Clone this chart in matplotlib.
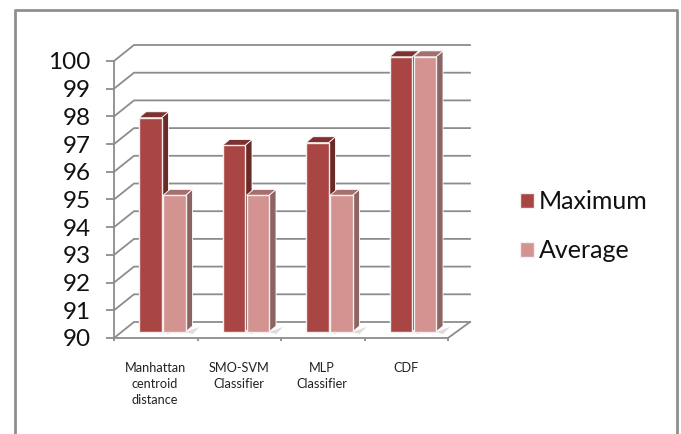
import matplotlib
matplotlib.use("Agg")
import matplotlib.pyplot as plt
from matplotlib.lines import Line2D

categories = ["Manhattan\ncentroid\ndistance", "SMO-SVM\nClassifier", "MLP\nClassifier", "CDF"]
series_names = ["Maximum", "Average"]
maximum = [97.8, 96.8, 96.9, 100]
average = [95, 95, 95, 100]
y_ticks = list(range(90, 101))

W, H = 681, 434
plt.rcParams['font.family'] = ['Lato', 'DejaVu Sans']
fig = plt.figure(figsize=(W/100, H/100), dpi=100)
L, R, B, T = 114, 448, 338, 61
ax = fig.add_axes([L/W, 1-B/H, (R-L)/W, (B-T)/H])
ax.set_xlim(0, 4)
ax.set_ylim(90, 100)
ax.patch.set_alpha(0)
px = 4/(R-L)
py = 10/(B-T)
GREY = "#8c8c8c"
COL = {"Maximum": ("#a94542", "#6a2a28", "#7c3230"), "Average": ("#d29391", "#8c6463", "#a56f6d")}
LW = 1.3

# frame (open at the bottom: it runs off the picture)
fig.add_artist(Line2D([15/W, 15/W, 677/W, 677/W], [0, 1-10/H, 1-10/H, 0], transform=fig.transFigure,
                      color="#8f8f8f", lw=2))

# walls and gridlines
dx, dy = 20*px, 16*py
for v in y_ticks:
    ax.plot([0, dx, 4+22*px], [v, v+dy, v+dy], color=GREY, lw=LW, clip_on=False, zorder=1)
ax.plot([4, 4+22*px], [90, 90+dy], color=GREY, lw=LW, clip_on=False, zorder=1)

# bars
off_x = 25*px
bw = 22.5*px
gap = 1.5*px
sx, sy = 7*px, 6*py
base = 90 + 6*py
for i in range(len(categories)):
    for j, (name, vals) in enumerate(zip(series_names, [maximum, average])):
        front, side, top = COL[name]
        x0 = i + off_x + j*(bw+gap)
        h = vals[i] + 0.15
        z = 3 + j
        ax.fill([x0+bw, x0+bw+sx+7*px, x0+bw+sx], [base, base+5*py, base-2*py], color="#dcdcdc",
                zorder=2, lw=0, clip_on=False)
        ax.fill([x0+bw, x0+bw+sx, x0+bw+sx, x0+bw], [base, base+sy, h+sy, h], fc=side, ec="white",
                lw=0.6, zorder=z, clip_on=False)
        ax.fill([x0, x0+sx, x0+bw+sx, x0+bw], [h, h+sy, h+sy, h], fc=top, ec="white",
                lw=0.6, zorder=z, clip_on=False)
        bars = ax.bar(x0, h-base, bottom=base, width=bw, align="edge", color=front, ec="#f5eeee",
                      lw=1.0, zorder=z, label=name)
        for b in bars:
            b.set_clip_on(False)

# axes
for s in ["top", "right"]:
    ax.spines[s].set_visible(False)
for s in ["left", "bottom"]:
    ax.spines[s].set_color(GREY)
    ax.spines[s].set_linewidth(LW)
    ax.spines[s].set_zorder(6)
ax.set_yticks(y_ticks)
ax.tick_params(axis="y", labelsize=17.5, length=5.8, width=LW, color=GREY, labelcolor="#111111", pad=11)
ax.set_xticks(range(5))
ax.set_xticklabels([])
ax.tick_params(axis="x", length=2.5, width=LW, color=GREY)
for i, c in enumerate(categories):
    ax.annotate(c, (i+0.5, 90), xytext=(-0.5, -17), textcoords="offset points", ha="center", va="top",
                fontsize=9.2, color="#222222", linespacing=1.4, annotation_clip=False)

# legend
h, l = ax.get_legend_handles_labels()
fig.legend(h[:2], l[:2], loc="upper left", bbox_to_anchor=(520/W, 1-190/H), frameon=False,
           fontsize=18, handlelength=0.55, handleheight=0.55, handletextpad=0.2, labelspacing=1.05,
           borderpad=0, borderaxespad=0, labelcolor="#111111")
fig.savefig("out.png", dpi=100)
